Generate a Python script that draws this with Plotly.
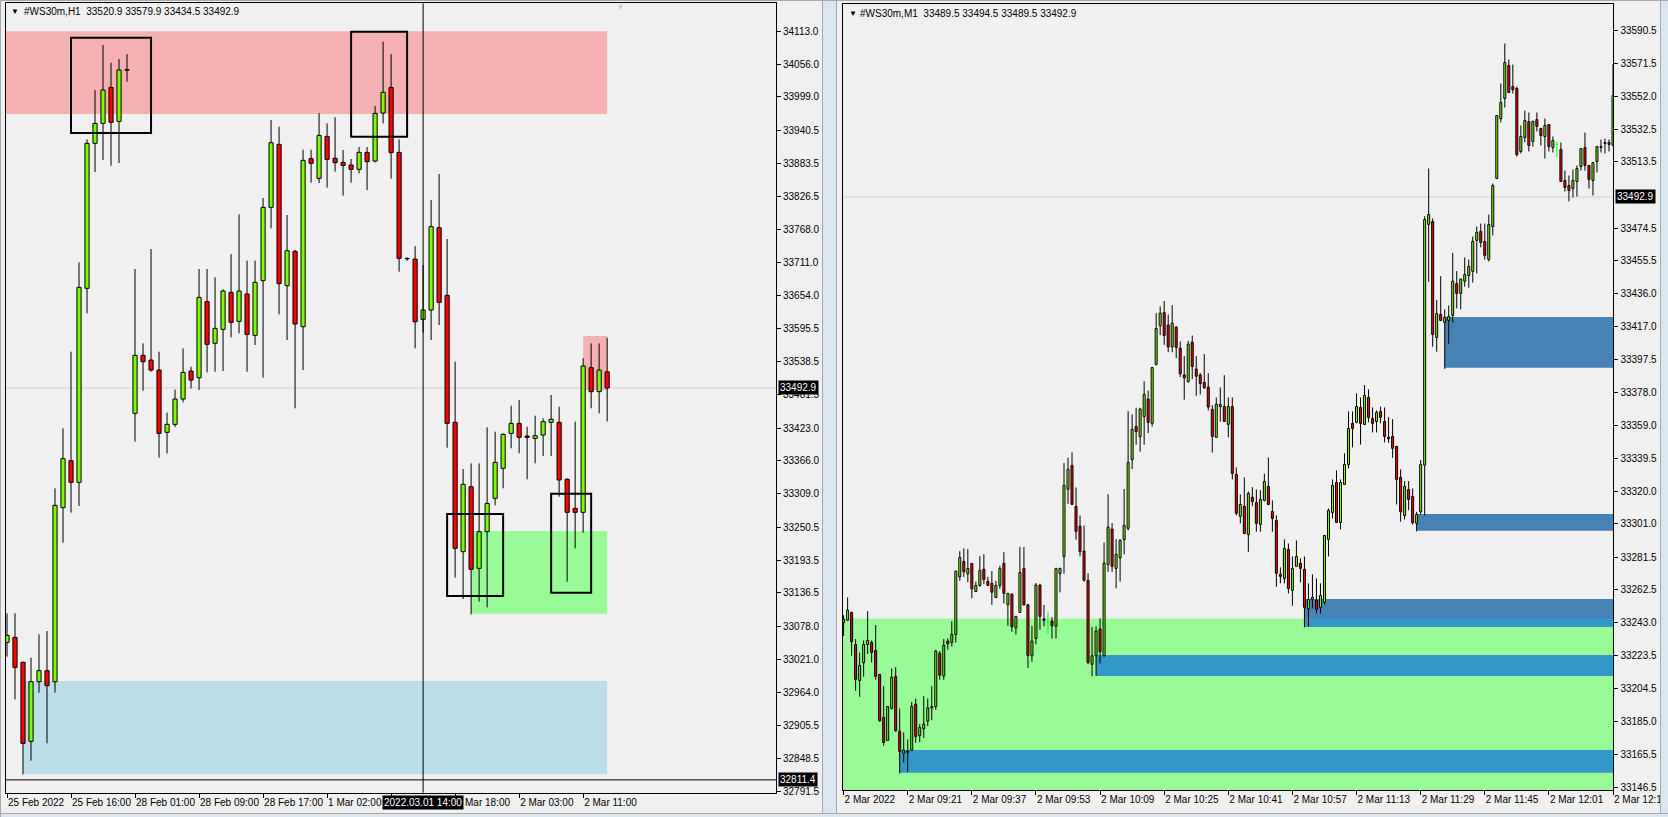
import plotly.graph_objects as go

W, H = 1668, 817

# ---------------- LEFT PANEL (H1) DATA ----------------
L_open = [33050.5, 33059.2, 33015.8, 32878.4, 32982.1, 33001.3, 32982.0, 33284.7, 33366.4, 33328.7,
          33666.1, 33918.2, 33952.9, 34015.5, 33956.4, 34046.5, 33448.7, 33549.6, 33541.4, 33524.0,
          33415.7, 33429.6, 33473.6, 33522.3, 33510.7, 33642.9, 33570.5, 33594.8, 33659.1, 33608.7,
          33656.2, 33584.3, 33679.4, 33806.9, 33916.4, 33670.7, 33730.4, 33599.4, 33891.5, 33857.3,
          33930.3, 33892.1, 33885.1, 33880.5, 33873.0, 33902.5, 33887.4, 33970.9, 34015.5, 33902.5,
          33718.0, 33717.0, 33612.1, 33628.4, 33771.5, 33653.9, 33433.1, 33208.2, 33321.2, 33179.2,
          33243.0, 33300.9, 33353.1, 33413.9, 33431.3, 33409.3, 33405.2, 33411.0, 33433.1, 33433.1,
          33334.0, 33283.5, 33276.6, 33528.1, 33486.4, 33520.9]
L_high = [33101.0, 33101.0, 33017.0, 33023.9, 33064.4, 33070.2, 33318.3, 33422.6, 33556.0, 33711.3,
          33925.1, 34010.9, 34089.2, 34058.4, 34064.8, 34073.5, 33699.7, 33570.4, 33734.4, 33555.9,
          33450.0, 33490.0, 33561.7, 33529.8, 33699.7, 33699.7, 33685.2, 33664.3, 33725.7, 33794.7,
          33714.2, 33714.2, 33823.1, 33958.7, 33947.2, 33793.6, 33733.0, 33907.2, 33907.0, 33970.9,
          33952.9, 33963.4, 33906.6, 33891.0, 33911.8, 33911.8, 33983.1, 34095.0, 34073.5, 33925.0,
          33720.0, 33739.6, 33706.6, 33819.6, 33864.9, 33751.8, 33538.5, 33351.9, 33361.8, 33361.8,
          33424.4, 33416.8, 33414.0, 33462.0, 33471.9, 33425.5, 33444.7, 33440.0, 33480.6, 33460.3,
          33336.0, 33434.2, 33545.0, 33570.4, 33570.4, 33579.9]
L_low = [33025.6, 32951.4, 32821.0, 32844.8, 32963.0, 32875.0, 32963.0, 33223.8, 33276.0, 33287.6,
         33622.6, 33868.3, 33889.2, 33879.3, 33884.0, 34025.4, 33399.5, 33488.1, 33521.0, 33371.6,
         33379.0, 33425.0, 33467.8, 33492.2, 33489.3, 33520.0, 33521.0, 33522.3, 33580.8, 33587.8,
         33521.0, 33567.5, 33510.7, 33770.4, 33620.8, 33576.2, 33457.4, 33524.0, 33849.8, 33849.0,
         33841.1, 33868.9, 33827.2, 33849.8, 33866.0, 33837.0, 33885.1, 33952.9, 33856.8, 33695.0,
         33714.0, 33561.7, 33589.0, 33576.2, 33602.3, 33389.0, 33163.0, 33125.9, 33099.2, 33121.3,
         33111.4, 33288.7, 33318.3, 33387.9, 33379.2, 33334.0, 33361.8, 33374.5, 33374.5, 33303.8,
         33156.0, 33214.0, 33241.2, 33457.4, 33448.7, 33434.5]
L_close = [33062.7, 33007.0, 32874.9, 32982.1, 33001.3, 32975.2, 33288.7, 33369.9, 33328.7, 33667.8,
           33918.2, 33952.9, 34010.9, 33954.7, 34045.7, 34045.5, 33549.6, 33538.5, 33524.0, 33413.9,
           33429.6, 33473.6, 33520.0, 33506.6, 33650.4, 33568.7, 33596.5, 33661.4, 33606.9, 33661.4,
           33586.0, 33676.5, 33806.9, 33919.3, 33674.2, 33731.5, 33604.0, 33888.6, 33883.4, 33932.1,
           33890.3, 33884.6, 33879.9, 33873.0, 33902.5, 33886.3, 33970.3, 34006.9, 33902.0, 33718.2,
           33717.5, 33608.0, 33628.4, 33773.3, 33641.7, 33431.3, 33214.0, 33325.3, 33177.5, 33243.0,
           33292.2, 33363.5, 33412.2, 33431.3, 33407.0, 33407.0, 33409.9, 33434.2, 33438.3, 33332.8,
           33276.6, 33276.6, 33531.0, 33486.4, 33524.0, 33492.9]

# tick labels; the 1 Mar 10:00 and 1 Mar 18:00 labels sit under the crosshair time box
L_tick_idx = [0, 8, 16, 24, 32, 40, 48, 56, 64, 72]
L_tick_text = ["25 Feb 2022", "25 Feb 16:00", "28 Feb 01:00", "28 Feb 09:00", "28 Feb 17:00",
               "1 Mar 02:00", "", "", "2 Mar 03:00", "2 Mar 11:00"]
L_partial_label = "Mar 18:00"
L_partial_idx = 56
L_price_ticks = [34113.0, 34056.0, 33999.0, 33940.5, 33883.5, 33826.5, 33768.0, 33711.0, 33654.0,
                 33595.5, 33538.5, 33481.5, 33423.0, 33366.0, 33309.0, 33250.5, 33193.5, 33136.5,
                 33078.0, 33021.0, 32964.0, 32905.5, 32848.5, 32791.5]

# zones: start idx, end idx, top, bottom, colour
L_zone_start = [-1, 2, 58, 72]
L_zone_end = [75, 75, 75, 75]
L_zone_top = [34113.0, 32983.3, 33244.1, 33583.2]
L_zone_bot = [33969.2, 32821.6, 33100.3, 33489.3]
L_zone_col = ["#f5b1b1", "#bcdee8", "#98fb98", "#f5b1b1"]

L_box_start = [8, 43, 55, 68]
L_box_end = [18, 50, 62, 73]
L_box_top = [34101.9, 34112.3, 33273.7, 33309.0]
L_box_bot = [33936.2, 33929.7, 33131.0, 33136.8]

L_cross_idx = 52
L_cross_time = "2022.03.01 14:00"
L_cross_price = 32811.4
CUR_PRICE = 33492.9

# ---------------- RIGHT PANEL (M1) DATA ----------------
R_ohlc = [
    (33243.2, 33247.5, 33235.3, 33245.1), (33244.5, 33257.8, 33244.0, 33250.4), (33249.0, 33249.5, 33223.6, 33231.8),
    (33230.2, 33233.4, 33203.0, 33209.7), (33209.1, 33225.5, 33199.5, 33217.9), (33219.5, 33232.6, 33211.3, 33230.2),
    (33230.2, 33249.8, 33224.6, 33232.6), (33231.4, 33232.6, 33219.7, 33225.5), (33226.7, 33241.6, 33209.5, 33211.5),
    (33212.6, 33213.0, 33184.9, 33185.4), (33187.4, 33205.8, 33170.8, 33172.7), (33173.9, 33194.0, 33173.5, 33193.8),
    (33192.7, 33216.2, 33192.0, 33210.9), (33211.5, 33216.9, 33179.0, 33179.6), (33179.2, 33192.7, 33154.5, 33167.5),
    (33166.3, 33178.6, 33161.0, 33168.2), (33167.6, 33174.5, 33155.5, 33166.9), (33168.2, 33196.4, 33168.0, 33193.8),
    (33195.2, 33198.4, 33172.5, 33176.1), (33176.8, 33183.5, 33172.9, 33181.5), (33180.7, 33199.9, 33175.3, 33183.5),
    (33185.2, 33198.5, 33182.3, 33193.0), (33193.0, 33205.8, 33185.8, 33193.8), (33193.8, 33227.1, 33191.9, 33226.3),
    (33225.1, 33226.3, 33209.5, 33212.2), (33211.8, 33233.4, 33209.5, 33229.8), (33232.2, 33233.8, 33227.1, 33230.6),
    (33231.4, 33243.9, 33229.0, 33236.1), (33236.1, 33273.5, 33231.4, 33273.3), (33269.9, 33285.0, 33267.6, 33281.3),
    (33278.9, 33286.6, 33269.9, 33272.9), (33271.7, 33286.2, 33266.8, 33274.8), (33277.8, 33278.0, 33257.4, 33262.9),
    (33261.3, 33267.2, 33261.0, 33264.9), (33264.9, 33282.1, 33264.1, 33273.7), (33274.4, 33283.2, 33265.6, 33268.4),
    (33267.2, 33269.9, 33264.5, 33264.9), (33266.0, 33273.3, 33253.5, 33260.9), (33257.8, 33267.6, 33257.5, 33264.9),
    (33264.9, 33276.4, 33262.9, 33274.8), (33277.8, 33284.4, 33254.3, 33260.2), (33253.5, 33260.5, 33241.2, 33260.2),
    (33259.8, 33260.0, 33237.7, 33240.6), (33240.0, 33247.0, 33236.1, 33246.7), (33249.0, 33287.4, 33249.0, 33272.5),
    (33274.8, 33287.4, 33253.0, 33253.5), (33253.5, 33254.0, 33216.5, 33223.8), (33223.6, 33241.1, 33220.1, 33232.2),
    (33233.8, 33266.3, 33230.3, 33265.1), (33265.1, 33265.9, 33238.9, 33246.7), (33245.2, 33253.4, 33240.9, 33244.4),
    (33243.6, 33249.4, 33236.6, 33243.6), (33244.0, 33246.3, 33233.8, 33241.2), (33240.9, 33275.0, 33233.8, 33274.9),
    (33271.8, 33275.2, 33260.8, 33274.9), (33281.9, 33336.7, 33271.8, 33323.6), (33321.3, 33339.8, 33312.8, 33333.0),
    (33335.3, 33343.0, 33312.0, 33312.5), (33311.3, 33322.4, 33291.7, 33296.6), (33299.7, 33306.0, 33281.9, 33284.7),
    (33285.1, 33300.1, 33267.1, 33267.9), (33267.9, 33272.1, 33218.6, 33219.7), (33218.6, 33240.5, 33211.5, 33223.6),
    (33223.6, 33240.9, 33211.9, 33238.1), (33239.3, 33245.5, 33219.0, 33226.0), (33223.6, 33290.1, 33223.0, 33278.0),
    (33277.2, 33318.5, 33272.9, 33299.1), (33298.0, 33301.5, 33272.9, 33276.1), (33274.9, 33292.1, 33263.2, 33283.1),
    (33281.1, 33292.1, 33267.1, 33291.3), (33291.7, 33321.5, 33283.1, 33300.1), (33298.4, 33367.2, 33297.2, 33337.1),
    (33338.7, 33365.3, 33333.2, 33356.5), (33358.2, 33369.2, 33347.5, 33355.1), (33352.1, 33369.2, 33343.4, 33368.4),
    (33364.1, 33384.8, 33347.5, 33377.0), (33374.3, 33379.3, 33354.3, 33360.6), (33360.0, 33393.0, 33358.2, 33392.8),
    (33394.6, 33424.7, 33394.0, 33415.7), (33417.3, 33428.6, 33411.8, 33424.7), (33425.1, 33431.8, 33406.1, 33411.6),
    (33417.7, 33423.9, 33401.8, 33404.9), (33404.9, 33429.4, 33401.8, 33418.8), (33416.5, 33417.0, 33398.3, 33404.6),
    (33404.2, 33408.1, 33387.2, 33389.1), (33388.4, 33399.5, 33373.9, 33386.8), (33384.6, 33408.5, 33383.8, 33406.5),
    (33407.7, 33411.6, 33386.0, 33393.4), (33391.9, 33399.5, 33376.2, 33387.6), (33388.4, 33389.5, 33377.0, 33383.4),
    (33384.0, 33400.7, 33380.3, 33380.9), (33381.3, 33389.5, 33367.6, 33369.6), (33368.2, 33370.7, 33342.9, 33352.3),
    (33351.8, 33375.2, 33351.5, 33371.3), (33369.9, 33381.1, 33361.0, 33371.1), (33369.9, 33388.3, 33361.0, 33361.1),
    (33359.4, 33375.2, 33351.8, 33369.9), (33369.9, 33375.2, 33327.1, 33330.6), (33330.0, 33334.1, 33306.0, 33307.2),
    (33305.4, 33318.3, 33301.3, 33312.4), (33311.3, 33328.3, 33295.0, 33295.4), (33294.8, 33320.0, 33284.6, 33318.9),
    (33316.7, 33322.6, 33311.3, 33314.2), (33313.6, 33321.2, 33296.4, 33301.3), (33300.7, 33320.8, 33296.4, 33315.4),
    (33314.8, 33330.4, 33314.2, 33325.9), (33323.0, 33340.0, 33312.0, 33312.4), (33308.3, 33314.8, 33296.4, 33304.2),
    (33303.0, 33306.0, 33264.1, 33272.0), (33271.4, 33275.5, 33266.1, 33270.2), (33269.0, 33291.9, 33266.1, 33286.6),
    (33286.0, 33289.5, 33260.2, 33263.1), (33262.0, 33281.9, 33253.0, 33274.9), (33276.1, 33291.3, 33276.0, 33281.9),
    (33277.8, 33280.8, 33266.7, 33274.9), (33274.3, 33281.9, 33240.3, 33252.0), (33251.2, 33266.1, 33240.7, 33256.7),
    (33256.7, 33271.4, 33251.4, 33257.9), (33256.1, 33269.0, 33248.5, 33250.8), (33252.0, 33266.1, 33248.5, 33259.0),
    (33254.9, 33294.5, 33253.8, 33294.2), (33291.9, 33310.1, 33281.9, 33308.9), (33307.7, 33327.1, 33304.2, 33323.6),
    (33325.3, 33332.4, 33301.5, 33301.9), (33301.9, 33327.1, 33297.8, 33325.3), (33324.2, 33342.4, 33324.0, 33335.9),
    (33335.9, 33367.0, 33333.6, 33357.0), (33360.0, 33367.0, 33345.9, 33357.0), (33360.6, 33377.6, 33360.0, 33369.9),
    (33369.4, 33375.2, 33347.6, 33360.0), (33359.4, 33382.5, 33359.0, 33376.4), (33375.2, 33379.9, 33360.6, 33363.5),
    (33362.9, 33369.4, 33354.7, 33360.0), (33361.1, 33367.6, 33354.7, 33366.4), (33367.0, 33369.9, 33360.0, 33363.5),
    (33361.1, 33369.4, 33348.8, 33352.3), (33351.9, 33363.7, 33348.6, 33351.0), (33352.4, 33362.5, 33339.8, 33345.3),
    (33346.5, 33346.7, 33312.4, 33327.1), (33328.3, 33333.0, 33302.3, 33308.1), (33305.9, 33326.1, 33303.6, 33323.0),
    (33321.2, 33326.1, 33309.1, 33315.4), (33317.1, 33321.8, 33300.7, 33301.7), (33301.3, 33308.1, 33296.6, 33306.6),
    (33308.1, 33338.5, 33306.6, 33335.9), (33335.5, 33481.6, 33306.0, 33479.7), (33476.8, 33509.6, 33443.1, 33482.6),
    (33478.5, 33480.3, 33405.0, 33412.2), (33410.4, 33432.3, 33402.0, 33424.5), (33423.9, 33446.4, 33420.0, 33420.4),
    (33419.3, 33426.9, 33392.0, 33422.2), (33420.4, 33429.2, 33406.7, 33422.8), (33423.4, 33460.1, 33419.3, 33443.5),
    (33442.1, 33449.4, 33427.5, 33436.3), (33436.3, 33445.0, 33426.9, 33444.7), (33443.5, 33457.4, 33440.2, 33447.4),
    (33446.8, 33456.2, 33439.6, 33452.1), (33449.2, 33469.7, 33442.7, 33466.8), (33467.4, 33475.6, 33448.0, 33472.1),
    (33472.7, 33477.3, 33463.3, 33466.2), (33466.8, 33477.3, 33456.2, 33458.6), (33456.2, 33482.6, 33455.0, 33476.8),
    (33475.6, 33500.8, 33470.3, 33499.6), (33503.8, 33541.0, 33503.5, 33540.7), (33538.9, 33559.5, 33536.6, 33548.3),
    (33550.7, 33583.0, 33545.4, 33571.8), (33570.1, 33573.6, 33554.0, 33554.2), (33557.7, 33570.6, 33553.6, 33556.0),
    (33556.6, 33557.7, 33516.6, 33517.8), (33519.6, 33534.9, 33518.4, 33528.4), (33527.8, 33543.6, 33524.9, 33537.8),
    (33537.2, 33542.5, 33519.6, 33523.1), (33525.5, 33537.8, 33522.5, 33537.2), (33538.4, 33542.5, 33531.3, 33534.3),
    (33533.1, 33533.5, 33523.1, 33529.0), (33528.4, 33539.0, 33515.5, 33534.9), (33535.4, 33535.5, 33519.6, 33522.5),
    (33521.9, 33528.4, 33519.0, 33526.0), (33523.7, 33525.5, 33516.1, 33523.7), (33520.8, 33524.9, 33502.0, 33502.0),
    (33502.6, 33508.4, 33496.1, 33498.5), (33499.6, 33505.5, 33490.3, 33496.7), (33497.9, 33509.0, 33492.6, 33502.6),
    (33502.0, 33511.4, 33493.2, 33509.6), (33510.8, 33521.5, 33508.4, 33521.3), (33521.9, 33530.7, 33508.4, 33511.4),
    (33511.4, 33511.5, 33497.9, 33503.2), (33502.6, 33513.5, 33493.8, 33513.1), (33513.7, 33522.8, 33507.3, 33522.5),
    (33521.9, 33526.6, 33519.0, 33522.5), (33524.3, 33527.2, 33518.4, 33524.9), (33524.9, 33526.6, 33519.6, 33523.7),
    (33523.1, 33570.8, 33523.0, 33552.4),
]
R_open = [r[0] for r in R_ohlc]
R_high = [r[1] for r in R_ohlc]
R_low = [r[2] for r in R_ohlc]
R_close = [r[3] for r in R_ohlc]

R_tick_idx = [0, 16, 32, 48, 64, 80, 96, 112, 128, 144, 160, 176, 192]
R_tick_text = ["2 Mar 2022", "2 Mar 09:21", "2 Mar 09:37", "2 Mar 09:53", "2 Mar 10:09", "2 Mar 10:25",
               "2 Mar 10:41", "2 Mar 10:57", "2 Mar 11:13", "2 Mar 11:29", "2 Mar 11:45", "2 Mar 12:01",
               "2 Mar 12:17"]
R_price_ticks = [33590.5, 33571.5, 33552.0, 33532.5, 33513.5, 33474.5, 33455.5, 33436.0, 33417.0,
                 33397.5, 33378.0, 33359.0, 33339.5, 33320.0, 33301.0, 33281.5, 33262.5, 33243.0,
                 33223.5, 33204.5, 33185.0, 33165.5, 33146.5]

R_green_top = 33245.5
R_green_bot = 33100.0
R_blue_start = [150, 143, 115, 63, 14]
R_blue_top = [33422.4, 33306.8, 33256.9, 33224.0, 33168.3]
R_blue_bot = [33392.6, 33297.0, 33240.5, 33211.7, 33155.0]

UP, DOWN, DOJI = "#7cfc00", "#ff0000", "#00ff00"
BLUE_OUT, BLUE_IN = "#4682b4", "#3397c8"
BG = "#f0f0f0"
FONT = "Liberation Sans"

fig = go.Figure()


def add_candles(o, h, l, c, xa, ya, width):
    bx, bb, bh, bc = [], [], [], []
    wx, wy, dx, dy = [], [], [], []
    for i in range(len(o)):
        if c[i] == o[i]:
            dx += [i, i, None, i - width / 2, i + width / 2, None]
            dy += [l[i], h[i], None, o[i], o[i], None]
            continue
        top, bot = max(o[i], c[i]), min(o[i], c[i])
        bx.append(i); bb.append(bot); bh.append(top - bot)
        bc.append(UP if c[i] > o[i] else DOWN)
        if h[i] > top:
            wx += [i, i, None]; wy += [top, h[i], None]
        if l[i] < bot:
            wx += [i, i, None]; wy += [bot, l[i], None]
    fig.add_trace(go.Bar(x=bx, y=bh, base=bb, width=width, xaxis=xa, yaxis=ya,
                         marker=dict(color=bc, line=dict(color="black", width=1)),
                         showlegend=False, hoverinfo="skip"))
    fig.add_trace(go.Scatter(x=wx, y=wy, mode="lines", xaxis=xa, yaxis=ya,
                             line=dict(color="black", width=1), showlegend=False, hoverinfo="skip"))
    if dx:
        fig.add_trace(go.Scatter(x=dx, y=dy, mode="lines", xaxis=xa, yaxis=ya,
                                 line=dict(color=DOJI, width=1), showlegend=False, hoverinfo="skip"))


add_candles(L_open, L_high, L_low, L_close, "x", "y", 0.52)
add_candles(R_open, R_high, R_low, R_close, "x2", "y2", 0.5)

shapes = []
for s, e, t, b, col in zip(L_zone_start, L_zone_end, L_zone_top, L_zone_bot, L_zone_col):
    shapes.append(dict(type="rect", xref="x", yref="y", x0=s, x1=e, y0=b, y1=t,
                       fillcolor=col, line=dict(width=0), layer="below"))
R_end = len(R_open) + 10
shapes.append(dict(type="rect", xref="x2", yref="y2", x0=-1, x1=R_end, y0=R_green_bot, y1=R_green_top,
                   fillcolor="#98fb98", line=dict(width=0), layer="below"))
for s, t, b in zip(R_blue_start, R_blue_top, R_blue_bot):
    shapes.append(dict(type="rect", xref="x2", yref="y2", x0=s, x1=R_end, y0=b, y1=t,
                       fillcolor=BLUE_OUT, line=dict(width=0), layer="below"))
    it, ib = min(t, R_green_top), max(b, R_green_bot)
    if it > ib:
        shapes.append(dict(type="rect", xref="x2", yref="y2", x0=s, x1=R_end, y0=ib, y1=it,
                           fillcolor=BLUE_IN, line=dict(width=0), layer="below"))
for xr, yr in (("x domain", "y"), ("x2 domain", "y2")):
    shapes.append(dict(type="line", xref=xr, yref=yr, x0=0, x1=1, y0=CUR_PRICE, y1=CUR_PRICE,
                       line=dict(color="#d2d2d2", width=1), layer="below"))
for s, e, t, b in zip(L_box_start, L_box_end, L_box_top, L_box_bot):
    shapes.append(dict(type="rect", xref="x", yref="y", x0=s, x1=e, y0=b, y1=t,
                       fillcolor="rgba(0,0,0,0)", line=dict(color="black", width=2), layer="above"))
shapes.append(dict(type="line", xref="x", yref="y domain", x0=L_cross_idx, x1=L_cross_idx, y0=0, y1=1,
                   line=dict(color="black", width=1)))
shapes.append(dict(type="line", xref="x domain", yref="y", x0=0, x1=1, y0=L_cross_price, y1=L_cross_price,
                   line=dict(color="black", width=1)))


def px_rect(x0, x1, y0, y1, col):
    shapes.append(dict(type="rect", xref="paper", yref="paper", x0=x0 / W, x1=x1 / W,
                       y0=1 - y1 / H, y1=1 - y0 / H, fillcolor=col, line=dict(width=0), layer="above"))


px_rect(823, 836, 0, H, "#dce6f1")
px_rect(822, 823, 0, H, "#a8a8a8")
px_rect(836, 837, 0, H, "#a8a8a8")
px_rect(1661, W, 0, H, "#dce6f1")
px_rect(1660, 1661, 0, H, "#a8a8a8")
px_rect(0, W, 814, H, "#dce6f1")
px_rect(0, W, 813, 814, "#a8a8a8")
px_rect(0, W, 0, 1, "#a8a8a8")
px_rect(0, 1, 0, H, "#a8a8a8")

tickfont = dict(family=FONT, size=10, color="black")
common_x = dict(showgrid=False, zeroline=False, showline=True, mirror=True, linecolor="black", linewidth=1,
                ticks="outside", ticklen=4, tickcolor="black", tickfont=tickfont, tickangle=0,
                ticklabelposition="outside right", fixedrange=True, automargin=False)
common_y = dict(showgrid=False, zeroline=False, showline=True, mirror=True, linecolor="black", linewidth=1,
                ticks="outside", ticklen=4, tickcolor="black", tickfont=tickfont, side="right",
                fixedrange=True, automargin=False)

fig.update_layout(
    width=W, height=H, autosize=False, margin=dict(l=0, r=0, t=0, b=0, pad=0, autoexpand=False),
    paper_bgcolor=BG, plot_bgcolor=BG, barmode="overlay", showlegend=False,
    xaxis=dict(domain=[6 / W, 776 / W], range=[-0.125, 96.1], anchor="y",
               tickvals=L_tick_idx, ticktext=L_tick_text, **common_x),
    yaxis=dict(domain=[1 - 792.7 / H, 1 - 3.3 / H], range=[32789.1, 34161.7], anchor="x",
               tickvals=L_price_ticks, ticktext=[f"{v:.1f}" for v in L_price_ticks], **common_y),
    xaxis2=dict(domain=[843 / W, 1613.4 / W], range=[-0.15, 192.1], anchor="y2",
                tickvals=R_tick_idx, ticktext=R_tick_text, **common_x),
    yaxis2=dict(domain=[1 - 790 / H, 1 - 4.3 / H], range=[33144.8, 33606.0], anchor="x2",
                tickvals=R_price_ticks, ticktext=[f"{v:.1f}" for v in R_price_ticks], **common_y),
    shapes=shapes,
)

ann = []
tf = dict(family=FONT, size=10, color="black")
ann.append(dict(xref="paper", yref="paper", x=9 / W, y=1 - 12 / H, text="▼", showarrow=False,
                xanchor="left", yanchor="middle", font=dict(family=FONT, size=8, color="black")))
ann.append(dict(xref="paper", yref="paper", x=22 / W, y=1 - 12 / H,
                text="#WS30m,H1\u00a0\u00a033520.9 33579.9 33434.5 33492.9", showarrow=False,
                xanchor="left", yanchor="middle", font=tf))
ann.append(dict(xref="paper", yref="paper", x=847 / W, y=1 - 13 / H, text="▼", showarrow=False,
                xanchor="left", yanchor="middle", font=dict(family=FONT, size=8, color="black")))
ann.append(dict(xref="paper", yref="paper", x=858 / W, y=1 - 13 / H,
                text="#WS30m,M1\u00a0\u00a033489.5 33494.5 33489.5 33492.9", showarrow=False,
                xanchor="left", yanchor="middle", font=tf))
ann.append(dict(xref="paper", yref="paper", x=620 / W, y=1 - 7 / H, text="▼", showarrow=False,
                xanchor="center", yanchor="middle", font=dict(family=FONT, size=9, color="#cfcfcf")))
lab = dict(family=FONT, size=10, color="white")
ann.append(dict(xref="paper", yref="y", x=778 / W, y=CUR_PRICE, text=f"{CUR_PRICE:.1f}", showarrow=False,
                xanchor="left", yanchor="middle", bgcolor="black", borderpad=1, font=lab))
ann.append(dict(xref="paper", yref="y", x=778 / W, y=L_cross_price, text=f"{L_cross_price:.1f}",
                showarrow=False, xanchor="left", yanchor="middle", bgcolor="black", borderpad=1, font=lab))
ann.append(dict(xref="paper", yref="y2", x=1615 / W, y=CUR_PRICE, text=f"{CUR_PRICE:.1f}", showarrow=False,
                xanchor="left", yanchor="middle", bgcolor="black", borderpad=1, font=lab))
ann.append(dict(xref="x", yref="paper", x=L_cross_idx, y=1 - 802 / H, text=L_cross_time, showarrow=False,
                xanchor="center", yanchor="middle", bgcolor="black", borderpad=1, font=lab))
ann.append(dict(xref="x", yref="paper", x=L_partial_idx + 1.0, y=1 - 802 / H, text=L_partial_label,
                showarrow=False, xanchor="left", yanchor="middle", font=tickfont))
fig.update_layout(annotations=ann)

fig.write_html("out.html", config={"displayModeBar": False, "responsive": False},
               post_script="document.body.style.margin='0';document.body.style.overflow='hidden';")
